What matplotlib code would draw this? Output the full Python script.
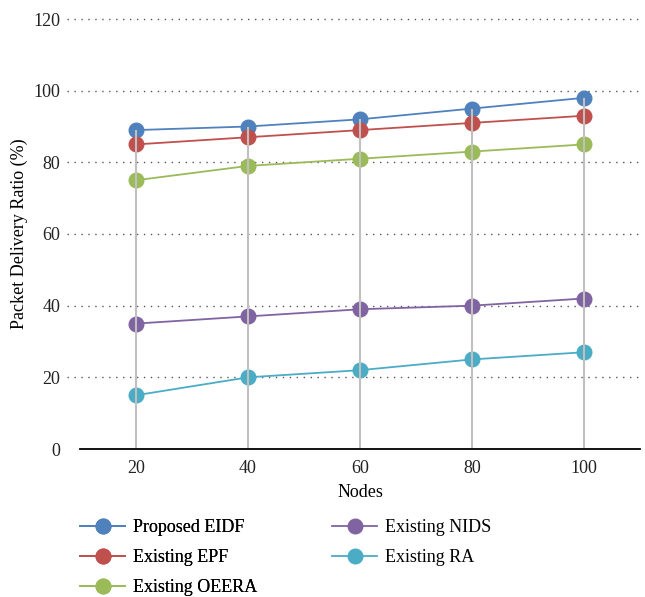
import matplotlib.pyplot as plt
import numpy as np

nodes = [20, 40, 60, 80, 100]
eidf = [89, 90, 92, 95, 98]
epf = [85, 87, 89, 91, 93]
oeera = [75, 79, 81, 83, 85]
nids = [35, 37, 39, 40, 42]
ra = [15, 20, 22, 25, 27]
yticks = [0, 20, 40, 60, 80, 100, 120]

series = [
    ("Proposed EIDF", eidf, "#4F81BD"),
    ("Existing EPF", epf, "#C0504D"),
    ("Existing OEERA", oeera, "#9BBB59"),
    ("Existing NIDS", nids, "#8064A2"),
    ("Existing RA", ra, "#4BACC6"),
]

plt.rcParams['font.family'] = ['Liberation Serif', 'DejaVu Serif']

W, H = 645, 597
fig = plt.figure(figsize=(W / 100, H / 100), dpi=100)
ax = fig.add_axes([80 / W, 1 - 449 / H, (640 - 80) / W, (449 - 19) / H])

x = np.arange(len(nodes))
handles = []
for name, vals, color in series:
    h, = ax.plot(x, vals, color=color, lw=1.3, marker='o', markersize=10.5,
                 markeredgecolor=color, label=name, zorder=3)
    handles.append(h)

# drop lines from the highest series down to the axis
tops = np.max([s[1] for s in series], axis=0)
ax.vlines(x, 0, tops, colors='#C0C0C0', lw=1.5, zorder=4)

ax.set_xlim(-0.5, len(nodes) - 0.5)
ax.set_ylim(0, 120)
ax.set_yticks(yticks)
ax.set_xticks(x)
ax.set_xticklabels([str(n) for n in nodes])

# dotted horizontal gridlines, extending slightly left of the plot area
for yv in yticks[1:]:
    ax.plot([-13 / 560, 1], [yv, yv], transform=ax.get_yaxis_transform(),
            linestyle=(0, (1, 4)), color='#555555', lw=1.0, zorder=1,
            clip_on=False)

for s in ['left', 'right', 'top']:
    ax.spines[s].set_visible(False)
ax.spines['bottom'].set_color('black')
ax.spines['bottom'].set_linewidth(1.3)
ax.spines['bottom'].set_zorder(5)
ax.tick_params(axis='y', length=0, labelsize=13, colors='#222222', pad=14)
ax.tick_params(axis='x', length=0, labelsize=13, colors='#222222', pad=8)

ax.set_xlabel("Nodes", fontsize=13, labelpad=5)
ax.set_ylabel("Packet Delivery Ratio (%)", fontsize=13, labelpad=4)

leg_kw = dict(loc='upper left', frameon=False, fontsize=13, handlelength=2.5,
              labelspacing=0.72, handletextpad=0.45, borderpad=0,
              borderaxespad=0)
leg1 = fig.legend(handles[:3], [s[0] for s in series[:3]],
                  bbox_to_anchor=(80 / W, 1 - 519 / H), **leg_kw)
fig.add_artist(leg1)
fig.legend(handles[3:], [s[0] for s in series[3:]],
           bbox_to_anchor=(332 / W, 1 - 519 / H), **leg_kw)

fig.savefig("out.png", dpi=100)
